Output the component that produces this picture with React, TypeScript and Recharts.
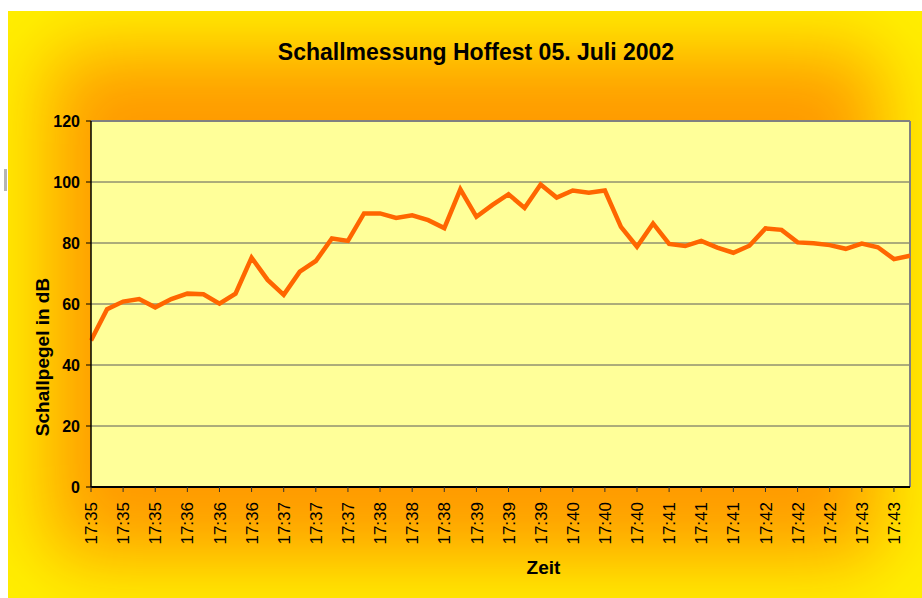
import { CartesianGrid, Label, Line, LineChart, ReferenceLine, XAxis, YAxis } from "recharts";

const times = [
  "17:35", "17:35", "17:35", "17:35", "17:35", "17:35",
  "17:36", "17:36", "17:36", "17:36", "17:36", "17:36",
  "17:37", "17:37", "17:37", "17:37", "17:37", "17:37",
  "17:38", "17:38", "17:38", "17:38", "17:38", "17:38",
  "17:39", "17:39", "17:39", "17:39", "17:39", "17:39",
  "17:40", "17:40", "17:40", "17:40", "17:40", "17:40",
  "17:41", "17:41", "17:41", "17:41", "17:41", "17:41",
  "17:42", "17:42", "17:42", "17:42", "17:42", "17:42",
  "17:43", "17:43", "17:43", "17:43",
];

const levels = [
  48, 58.3, 60.8, 61.6, 58.9, 61.6, 63.4, 63.2, 60.1, 63.4, 75.2, 67.9, 63,
  70.6, 74.1, 81.5, 80.7, 89.7, 89.7, 88.2, 89.1, 87.5, 84.9, 97.6, 88.6, 92.5,
  96, 91.5, 99.2, 94.9, 97.2, 96.5, 97.2, 85.3, 78.8, 86.4, 79.7, 79, 80.7, 78.5,
  76.8, 79.1, 84.8, 84.3, 80.2, 79.9, 79.3, 78.1, 79.8, 78.6, 74.7, 75.8,
];

const yTicks = [0, 20, 40, 60, 80, 100, 120];

const data = levels.map((level, i) => ({ i, level }));

const FONT = "'Liberation Sans', Arial, sans-serif";

function TimeTick({ x, y, payload }: any) {
  return (
    <text
      x={x}
      y={y}
      transform={`rotate(-90, ${x}, ${y})`}
      textAnchor="end"
      dy="0.36em"
      fontSize={17}
      fontFamily={FONT}
      fill="#000"
    >
      {times[payload.value]}
    </text>
  );
}

export default function App() {
  return (
    <>
      <div style={{ position: "fixed", left: 4, top: 169, width: 3, height: 22, background: "#b4b4b4" }} />
      <div
        style={{
          position: "fixed",
          left: 8,
          top: 11,
          width: 914,
          height: 587,
          background: "#ff9900",
          boxShadow: "inset 0 0 80px 40px #fff200",
          overflow: "hidden",
        }}
      >
        <svg width={914} height={80} style={{ position: "absolute", left: 0, top: 0 }}>
          <text x={468} y={49} textAnchor="middle" fontSize={23} fontWeight="bold" fontFamily={FONT} fill="#000">
            Schallmessung Hoffest 05. Juli 2002
          </text>
        </svg>
        <LineChart
          width={914}
          height={587}
          data={data}
          margin={{ top: 110, right: 12, left: 0, bottom: 0 }}
          style={{ position: "absolute", left: 0, top: 0 }}
        >
          <CartesianGrid vertical={false} stroke="#5a5a5a" fill="#ffff99" fillOpacity={1} />
          <XAxis
            dataKey="i"
            type="category"
            interval={1}
            height={111}
            tick={<TimeTick />}
            tickSize={5}
            tickMargin={10}
            axisLine={{ stroke: "#000", strokeWidth: 2 }}
            tickLine={{ stroke: "#333" }}
          >
            <Label
              value="Zeit"
              position="insideBottom"
              offset={24}
              fontSize={19}
              fontWeight="bold"
              fontFamily={FONT}
              fill="#000"
              dx={43}
            />
          </XAxis>
          <YAxis
            domain={[0, 120]}
            ticks={yTicks}
            width={83}
            tickSize={5}
            tickMargin={6}
            axisLine={{ stroke: "#000", strokeWidth: 1.5 }}
            tickLine={{ stroke: "#000" }}
            tick={{ fill: "#000", fontSize: 16, fontWeight: "bold", fontFamily: FONT }}
          >
            <Label
              content={({ viewBox }: any) => (
                <text
                  x={viewBox.x + 41}
                  y={viewBox.y + viewBox.height / 2 + 53}
                  transform={`rotate(-90, ${viewBox.x + 41}, ${viewBox.y + viewBox.height / 2 + 53})`}
                  textAnchor="middle"
                  fontSize={19}
                  fontWeight="bold"
                  fontFamily={FONT}
                  fill="#000"
                >
                  Schallpegel in dB
                </text>
              )}
            />
          </YAxis>
          <ReferenceLine y={120} stroke="#808080" strokeWidth={2} />
          <ReferenceLine x={levels.length - 1} stroke="#808080" strokeWidth={2} />
          <Line
            type="linear"
            dataKey="level"
            stroke="#ff6600"
            strokeWidth={4.5}
            dot={false}
            isAnimationActive={false}
          />
        </LineChart>
      </div>
    </>
  );
}
